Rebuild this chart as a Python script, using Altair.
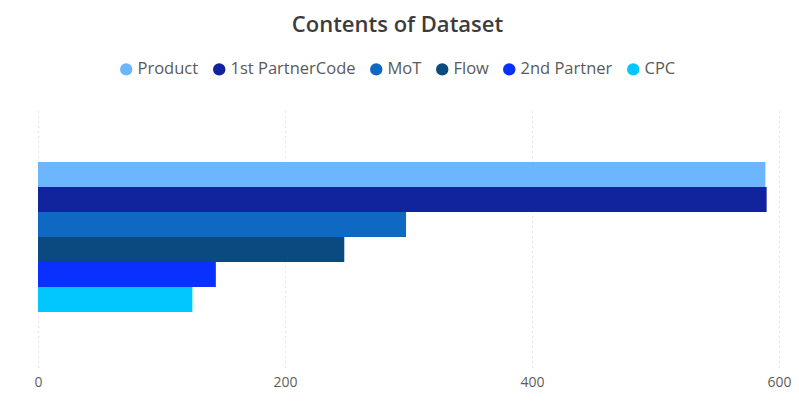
import altair as alt
import pandas as pd

series = ["Product", "1st PartnerCode", "MoT", "Flow", "2nd Partner", "CPC"]
values = [589, 590, 298, 248, 144, 125]
colors = ["#6BB6FD", "#12239E", "#0F69C2", "#0B4A80", "#0A30FF", "#00C8FF"]
ticks = [0, 200, 400, 600]

df = pd.DataFrame({"Series": series, "Count": values, "Group": ["Contents"] * len(series)})

chart = alt.Chart(df).mark_bar().encode(
    x=alt.X("Count:Q", scale=alt.Scale(domain=[0, 600], nice=False),
            axis=alt.Axis(values=ticks, title=None, domain=False, ticks=False,
                          grid=True, gridDash=[1, 4], gridColor="#C8C8C8", gridWidth=1,
                          labelColor="#605E5C", labelFontSize=14, labelPadding=8,
                          labelFlush=False, labelFont="Open Sans")),
    y=alt.Y("Group:N", axis=None, scale=alt.Scale(paddingOuter=0.367, paddingInner=0)),
    yOffset=alt.YOffset("Series:N", sort=series, scale=alt.Scale(paddingInner=0, paddingOuter=0)),
    color=alt.Color("Series:N", scale=alt.Scale(domain=series, range=colors),
                    legend=alt.Legend(title=None, orient="none", direction="horizontal",
                                      legendX=80, legendY=-46,
                                      symbolType="circle", symbolSize=154, symbolStrokeWidth=0,
                                      labelFontSize=16.5, labelColor="#5A5A5A", labelFont="Open Sans",
                                      columnPadding=12, symbolOffset=0, labelOffset=3)),
).properties(
    width=741, height=260,
    title=alt.TitleParams("Contents of Dataset", fontSize=22, font="Open Sans", fontWeight=600,
                          color="#3C3C3C", anchor="middle", dx=-11, offset=24),
    autosize=alt.AutoSizeParams(type="none"),
    padding={"left": 30, "top": 99, "right": 12, "bottom": 26},
).configure_view(stroke=None)

chart.save("out.html", embed_options={"renderer": "svg", "actions": False})
